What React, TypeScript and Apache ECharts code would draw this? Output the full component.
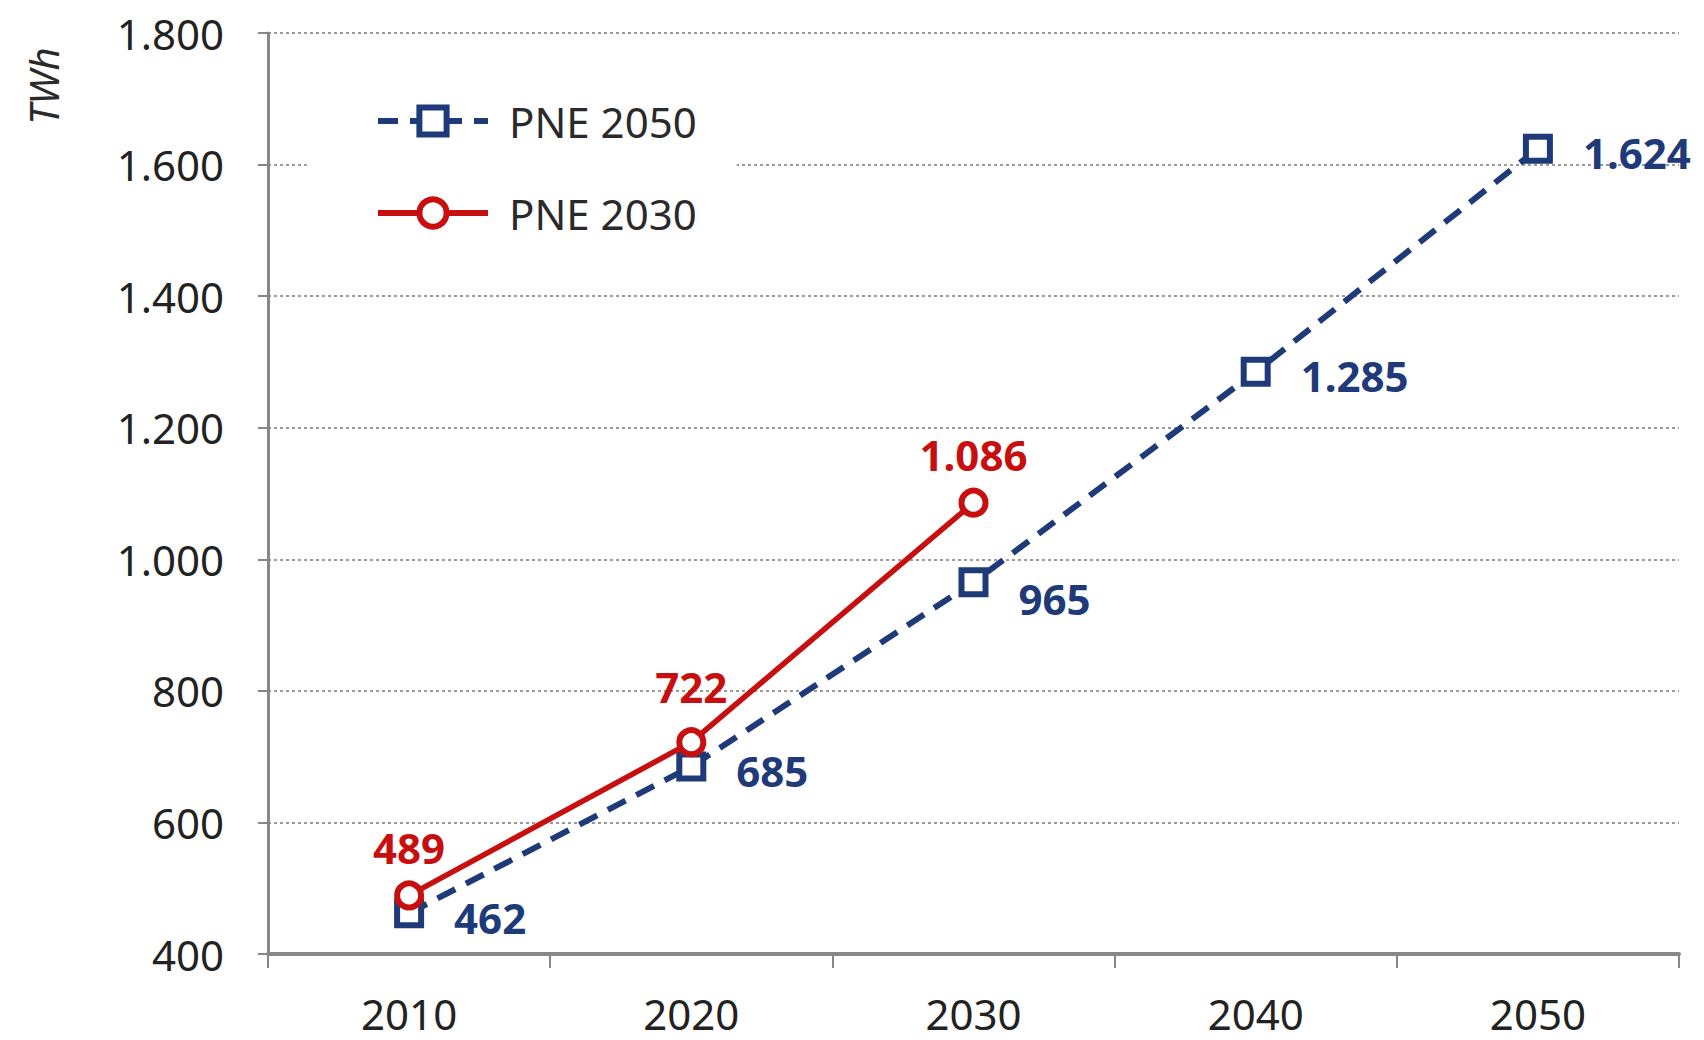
import React, { useEffect, useRef } from "react";
import * as echarts from "echarts";

const categories = ["2010", "2020", "2030", "2040", "2050"];
const pne2050 = [462, 685, 965, 1285, 1624];
const pne2030 = [489, 722, 1086];
const pne2050LabelDy = [4, 4, 16, 4, 4];
const pne2030LabelDy = [0, -8, 0];
const yTicks = { min: 400, max: 1800, interval: 200 };

const NAVY = "#1F3A78";
const RED = "#C80F0F";
const FONT = "Noto Sans";

const fmt = (v: number) => String(v).replace(/\B(?=(\d{3})+(?!\d))/g, ".");

export default function App() {
  const ref = useRef<HTMLDivElement>(null);
  useEffect(() => {
    if (!ref.current) return;
    const chart = echarts.init(ref.current, undefined, { renderer: "svg" });
    chart.setOption({
      animation: false,
      backgroundColor: "#fff",
      grid: { left: 268, right: 25, top: 33, bottom: 86, containLabel: false },
      legend: {
        orient: "vertical",
        left: 310,
        top: 65,
        padding: [35, 40, 34, 65],
        backgroundColor: "#fff",
        itemWidth: 110,
        itemHeight: 34,
        itemGap: 50,
        lineStyle: { width: 6 },
        itemStyle: { borderWidth: 6 },
        textStyle: { fontSize: 42, color: "#2a2a2a", fontFamily: FONT, padding: [0, 0, 0, 16] },
        data: ["PNE 2050", "PNE 2030"],
      },
      graphic: [
        {
          type: "text",
          x: 43,
          y: 86,
          rotation: Math.PI / 2,
          style: {
            text: "TWh",
            fontSize: 40,
            fontStyle: "italic",
            fontFamily: FONT,
            fill: "#2a2a2a",
            align: "center",
            verticalAlign: "middle",
          },
        },
      ],
      xAxis: {
        type: "category",
        data: categories,
        boundaryGap: true,
        axisLine: { lineStyle: { color: "#878787", width: 4 } },
        axisTick: { show: true, length: 14, lineStyle: { color: "#878787", width: 2 } },
        axisLabel: { margin: 38, fontSize: 42, color: "#222", fontFamily: FONT },
        splitLine: { show: false },
      },
      yAxis: {
        type: "value",
        min: yTicks.min,
        max: yTicks.max,
        interval: yTicks.interval,
        axisLine: { show: true, lineStyle: { color: "#878787", width: 3 } },
        axisTick: { show: true, length: 10, lineStyle: { color: "#878787", width: 2 } },
        axisLabel: {
          margin: 44,
          fontSize: 42,
          color: "#222",
          fontFamily: FONT,
          formatter: (v: number) => fmt(v),
        },
        splitLine: { show: true, lineStyle: { color: "#9a9a9a", width: 2, type: [3, 3] } },
      },
      series: [
        {
          name: "PNE 2050",
          type: "line",
          data: pne2050.map((v, i) => ({ value: v, label: { offset: [0, pne2050LabelDy[i]] } })),
          symbol: "rect",
          symbolSize: 24,
          z: 3,
          lineStyle: { color: NAVY, width: 6, type: [20, 12] },
          itemStyle: { color: "#fff", borderColor: NAVY, borderWidth: 6 },
          label: {
            show: true,
            position: "right",
            distance: 30,
            color: NAVY,
            fontWeight: "bold",
            fontSize: 42,
            fontFamily: FONT,
            formatter: (p: any) => fmt(p.value),
          },
        },
        {
          name: "PNE 2030",
          type: "line",
          data: pne2030.map((v, i) => ({ value: v, label: { offset: [0, pne2030LabelDy[i]] } })),
          symbol: "circle",
          symbolSize: 24,
          z: 4,
          lineStyle: { color: RED, width: 5.5 },
          itemStyle: { color: "#fff", borderColor: RED, borderWidth: 6 },
          label: {
            show: true,
            position: "top",
            distance: 12,
            color: RED,
            fontWeight: "bold",
            fontSize: 42,
            fontFamily: FONT,
            formatter: (p: any) => fmt(p.value),
          },
        },
      ],
    });
    return () => chart.dispose();
  }, []);
  return (
    <div
      ref={ref}
      style={{ position: "fixed", left: 0, top: 0, width: 1704, height: 1040, background: "#fff" }}
    />
  );
}
